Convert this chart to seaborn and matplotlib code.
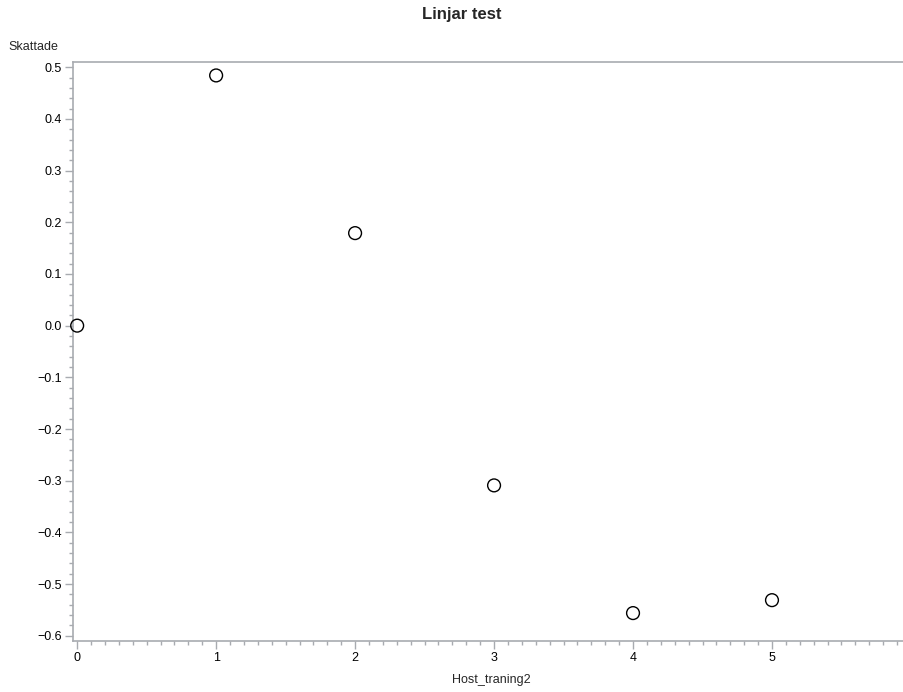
import numpy as np
import pandas as pd
import matplotlib
matplotlib.use("Agg")
import matplotlib.pyplot as plt
import seaborn as sns
from matplotlib.ticker import MultipleLocator, FuncFormatter

x_vals = [0, 1, 2, 3, 4, 5]
y_vals = [0.0, 0.484, 0.179, -0.309, -0.556, -0.531]
x_ticks = [0, 1, 2, 3, 4, 5]
y_ticks = [-0.6, -0.5, -0.4, -0.3, -0.2, -0.1, 0.0, 0.1, 0.2, 0.3, 0.4, 0.5]

sns.set_style("white")
plt.rcParams['font.family'] = ['Liberation Sans', 'DejaVu Sans']

df = pd.DataFrame({"Host_traning2": x_vals, "Skattade": y_vals})

fig = plt.figure(figsize=(9.04, 6.92), dpi=100)
ax = fig.add_axes([73/904, 51/692, 1 - 73/904, (641-62)/692])

sns.scatterplot(data=df, x="Host_traning2", y="Skattade", ax=ax,
                marker="o", s=85, facecolor="none", edgecolor="black",
                linewidth=1.0, clip_on=False, zorder=5)

ax.set_xlim(-0.03, 5.95)
ax.set_ylim(-0.61, 0.51)
ax.set_xticks(x_ticks)
ax.set_yticks(y_ticks)

def yfmt(v, pos):
    s = f"{abs(v):.1f}"
    return ("\u2212" + s) if v < -1e-9 else s

ax.yaxis.set_major_formatter(FuncFormatter(yfmt))
ax.xaxis.set_minor_locator(MultipleLocator(0.1))
ax.yaxis.set_minor_locator(MultipleLocator(0.02))

spine_col = "#a8abb0"
for side in ["left", "bottom", "top"]:
    ax.spines[side].set_visible(True)
    ax.spines[side].set_color(spine_col)
    ax.spines[side].set_linewidth(1.2)
ax.spines["right"].set_visible(False)

ax.tick_params(axis="both", which="major", direction="out", length=6,
               width=1, color=spine_col, labelsize=9, labelcolor="black", pad=2)
ax.tick_params(axis="both", which="minor", direction="out", length=3,
               width=1, color=spine_col)
ax.tick_params(axis="x", which="both", bottom=True, top=False)
ax.tick_params(axis="y", which="both", left=True, right=False)

ax.set_xlabel("")
ax.set_ylabel("")
fig.text(491/904, 1 - 686/692, "Host_traning2", ha="center", va="bottom", fontsize=9)
fig.text(8/904, 1 - 47/692, "Skattade", ha="left", va="center", fontsize=9)
fig.text(462/904, 1 - 15/692, "Linjar test", ha="center", va="center",
         fontsize=12, fontweight="bold")

fig.savefig("out.png", dpi=100)
